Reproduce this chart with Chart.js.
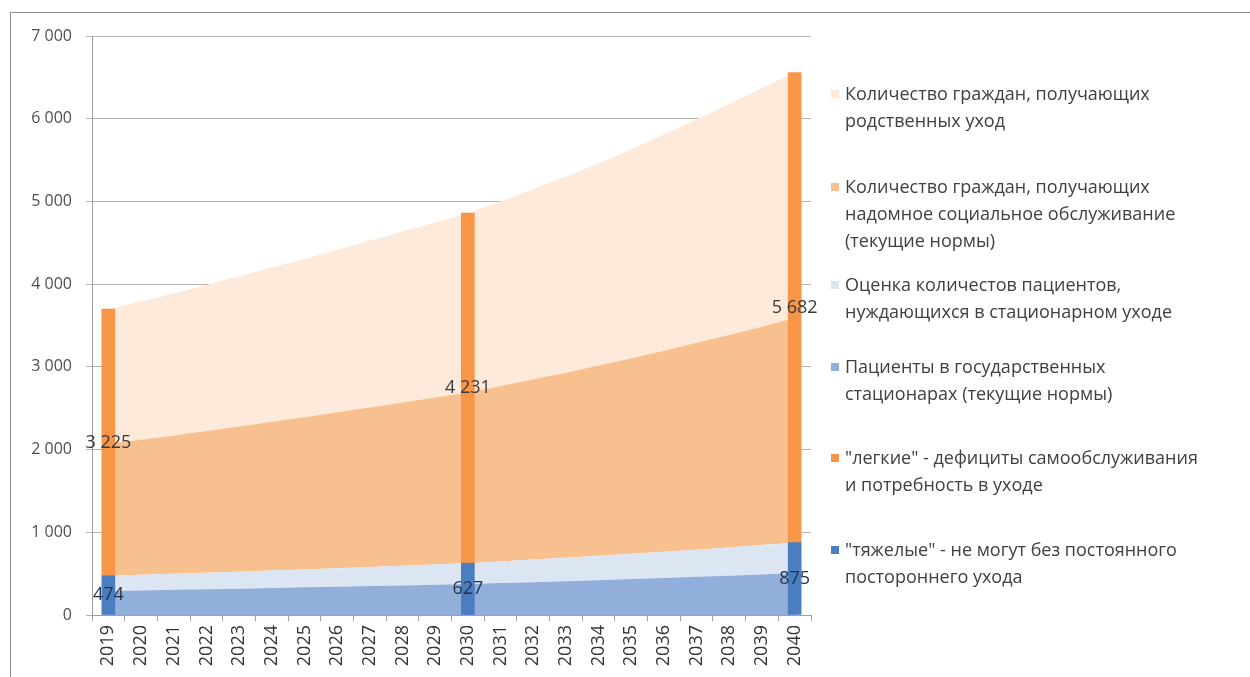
<!DOCTYPE html>
<html>
<head>
<meta charset="utf-8">
<script src="https://cdn.jsdelivr.net/npm/chart.js@4.4.1/dist/chart.umd.min.js"></script>
<style>
  html, body { margin: 0; padding: 0; background: #fff; }
  body { width: 1250px; height: 677px; position: relative; overflow: hidden; font-family: "Open Sans", sans-serif; }
  #frame { position: absolute; left: 10px; top: 12px; right: -5px; bottom: -5px; border-top: 1px solid #8a8a8a; border-left: 1px solid #8a8a8a; }
  #wrap { position: absolute; left: 0; top: 0; width: 830px; height: 677px; }
  #legend { position: absolute; left: 828px; top: 0; width: 420px; height: 677px; }
  .item { position: absolute; left: 0; font-size: 18px; line-height: 27px; color: #404040; padding-left: 17px; white-space: nowrap; }
  .item i { position: absolute; left: 3px; top: 10px; width: 8px; height: 8px; }
</style>
</head>
<body>
<div id="frame"></div>
<div id="wrap"><canvas id="chart" width="830" height="677"></canvas></div>
<div id="legend"></div>
<script>
// Data
const years = ['2019','2020','2021','2022','2023','2024','2025','2026','2027','2028','2029',
               '2030','2031','2032','2033','2034','2035','2036','2037','2038','2039','2040'];

// stacked areas (bottom to top)
const stateHospital = [290,297,304,311,318,326,334,342,350,358,366,375,386,397,409,421,434,447,461,475,490,508];
const needEstimate  = [184,189,194,200,206,211,217,223,230,238,245,252,262,273,283,294,305,317,329,342,355,367];
const homeService   = [1596,1634,1672,1714,1756,1798,1839,1885,1930,1974,2019,2063,2122,2180,2238,2300,2366,2431,2500,2568,2640,2715];
const relativeCare  = [1629,1670,1720,1765,1815,1865,1915,1965,2015,2065,2115,2168,2230,2300,2370,2445,2525,2615,2705,2795,2885,2967];

// bars, only 2019 / 2030 / 2040
const heavy = [474,null,null,null,null,null,null,null,null,null,null,627,null,null,null,null,null,null,null,null,null,875];
const light = [3225,null,null,null,null,null,null,null,null,null,null,4231,null,null,null,null,null,null,null,null,null,5682];

const yTicks = [0,1000,2000,3000,4000,5000,6000,7000];

const labels = {
  relative: ['Количество граждан, получающих', 'родственных уход'],
  home: ['Количество граждан, получающих', 'надомное социальное обслуживание', '(текущие нормы)'],
  estimate: ['Оценка количестов пациентов,', 'нуждающихся в стационарном уходе'],
  hospital: ['Пациенты в государственных', 'стационарах (текущие нормы)'],
  light: ['"легкие" - дефициты самообслуживания', 'и потребность в уходе'],
  heavy: ['"тяжелые" - не могут без постоянного', 'постороннего ухода']
};

function fmt(v){ return String(v).replace(/\B(?=(\d{3})+(?!\d))/g, ' '); }

function area(label, data, color, fill){
  return { type:'line', label:label, data:data, backgroundColor:color, borderWidth:0,
           pointRadius:0, fill:fill, stack:'areas', order:2, tension:0 };
}

const datasets = [
  area(labels.hospital.join(' '), stateHospital, '#92AEDA', 'origin'),
  area(labels.estimate.join(' '), needEstimate, '#DCE6F2', '-1'),
  area(labels.home.join(' '), homeService, '#F9C08F', '-1'),
  area(labels.relative.join(' '), relativeCare, '#FDEADA', '-1'),
  { type:'bar', label:labels.heavy.join(' '), data:heavy, backgroundColor:'#4A7EC0', stack:'bars', order:1, barThickness:13 },
  { type:'bar', label:labels.light.join(' '), data:light, backgroundColor:'#F79646', stack:'bars', order:1, barThickness:13 }
];

// value labels centred in bar segments
const barLabels = {
  id: 'barLabels',
  afterDatasetsDraw(chart){
    const ctx = chart.ctx;
    ctx.save();
    ctx.font = '18px "Open Sans"';
    ctx.textAlign = 'center';
    ctx.textBaseline = 'middle';
    chart.data.datasets.forEach((ds, i) => {
      if(ds.type !== 'bar') return;
      chart.getDatasetMeta(i).data.forEach((el, j) => {
        if(ds.data[j] == null) return;
        ctx.fillStyle = i === 4 ? '#26344d' : '#3a3a3a';
        ctx.fillText(fmt(ds.data[j]), el.x, (el.y + el.base) / 2);
      });
    });
    ctx.restore();
  }
};

const chart = new Chart(document.getElementById('chart'), {
  type: 'bar',
  data: { labels: years, datasets: datasets },
  options: {
    responsive: false,
    animation: false,
    devicePixelRatio: 1,
    layout: { padding: { top: 36, right: 19, left: 0, bottom: 0 } },
    plugins: { legend: { display: false }, tooltip: { enabled: false } },
    scales: {
      x: {
        grid: { drawOnChartArea: false, color: '#a0a0a0', tickLength: 6, offset: true },
        border: { color: '#a0a0a0' },
        ticks: { minRotation: 90, maxRotation: 90, color: '#333', padding: 4, font: { size: 18, family: '"Open Sans"' } },
        afterFit(s){ s.height = 62; }
      },
      y: {
        stacked: true,
        min: 0, max: 7000,
        afterBuildTicks(s){ s.ticks = yTicks.map(v => ({ value: v })); },
        grid: { color: '#b4b4b4', tickLength: 6 },
        border: { color: '#a0a0a0' },
        ticks: { color: '#505050', padding: 14, font: { size: 16, family: '"Open Sans"' }, callback: v => fmt(v) },
        afterFit(s){ s.width = 92; }
      }
    }
  },
  plugins: [barLabels]
});

// legend on the right
const legendOrder = [
  { key: 'relative', color: '#FDEADA', top: 80 },
  { key: 'home', color: '#F9C08F', top: 173 },
  { key: 'estimate', color: '#DCE6F2', top: 271 },
  { key: 'hospital', color: '#92AEDA', top: 353 },
  { key: 'light', color: '#F79646', top: 444 },
  { key: 'heavy', color: '#4A7EC0', top: 536 }
];
const legend = document.getElementById('legend');
legendOrder.forEach(it => {
  const d = document.createElement('div');
  d.className = 'item';
  d.style.top = it.top + 'px';
  d.innerHTML = '<i style="background:' + it.color + '"></i>' + labels[it.key].join('<br>');
  legend.appendChild(d);
});
</script>
</body>
</html>
